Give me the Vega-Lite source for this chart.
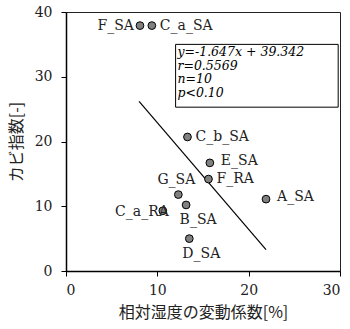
{
  "$schema": "https://vega.github.io/schema/vega-lite/v6.json",
  "width": 274,
  "height": 259,
  "autosize": {"type": "none"},
  "padding": {"left": 66, "top": 12, "right": 10, "bottom": 58},
  "background": "white",
  "config": {
    "view": {"stroke": "#222", "strokeWidth": 1},
    "axis": {
      "grid": false,
      "domainColor": "#000",
      "domainWidth": 1.5,
      "tickColor": "#000",
      "tickSize": 5,
      "labelFont": "DejaVu Serif",
      "labelFontSize": 14,
      "labelColor": "#222",
      "titleFont": "Noto Sans CJK JP",
      "titleFontSize": 16,
      "titleFontWeight": "normal",
      "titleColor": "#222"
    }
  },
  "datasets": {
    "pts": [
      {"name": "F_SA", "x": 8.1, "y": 37.9},
      {"name": "C_a_SA", "x": 9.4, "y": 37.9},
      {"name": "C_b_SA", "x": 13.3, "y": 20.7},
      {"name": "E_SA", "x": 15.75, "y": 16.7},
      {"name": "F_RA", "x": 15.6, "y": 14.2},
      {"name": "A_SA", "x": 21.9, "y": 11.1},
      {"name": "G_SA", "x": 12.3, "y": 11.8},
      {"name": "B_SA", "x": 13.15, "y": 10.2},
      {"name": "C_a_RA", "x": 10.6, "y": 9.3},
      {"name": "D_SA", "x": 13.5, "y": 5.0}
    ],
    "fit": [
      {"x": 8.0, "y": 26.2},
      {"x": 21.9, "y": 3.3}
    ],
    "box": [
      {"x": 12.0, "x2": 29.8, "y": 35.0, "y2": 25.3, "tx": 12.2, "text": ["y=-1.647x + 39.342", "r=0.5569", "n=10", "p<0.10"]}
    ]
  },
  "layer": [
    {
      "data": {"name": "fit"},
      "mark": {"type": "line", "color": "#000", "strokeWidth": 1.2},
      "encoding": {
        "x": {"field": "x", "type": "quantitative", "scale": {"domain": [0, 30], "nice": false},
              "axis": {"values": [0, 10, 20, 30], "title": "相対湿度の変動係数[%]", "labelPadding": 7, "titlePadding": 7}},
        "y": {"field": "y", "type": "quantitative", "scale": {"domain": [0, 40], "nice": false},
              "axis": {"values": [0, 5, 10, 15, 20, 25, 30, 35, 40], "title": "カビ指数[-]", "labelPadding": 9, "titlePadding": 10}}
      }
    },
    {
      "data": {"name": "box"},
      "mark": {"type": "rect", "fill": "white", "stroke": "#000", "strokeWidth": 1},
      "encoding": {
        "x": {"field": "x", "type": "quantitative"},
        "x2": {"field": "x2"},
        "y": {"field": "y", "type": "quantitative"},
        "y2": {"field": "y2"}
      }
    },
    {
      "data": {"name": "box"},
      "mark": {"type": "text", "font": "DejaVu Serif", "fontStyle": "italic", "fontSize": 12.5, "align": "left", "baseline": "top", "lineHeight": 13.5, "dy": 2, "color": "#000"},
      "encoding": {
        "x": {"field": "tx", "type": "quantitative"},
        "y": {"field": "y", "type": "quantitative"},
        "text": {"field": "text"}
      }
    },
    {
      "data": {"name": "pts"},
      "mark": {"type": "point", "shape": "circle", "filled": true, "fill": "#808080", "stroke": "#000", "strokeWidth": 1, "size": 60, "opacity": 1},
      "encoding": {
        "x": {"field": "x", "type": "quantitative"},
        "y": {"field": "y", "type": "quantitative"}
      }
    },
    {
      "data": {"name": "pts"},
      "transform": [{"filter": "indexof(['C_a_SA','C_b_SA','F_RA'], datum.name) >= 0"}],
      "mark": {"type": "text", "font": "DejaVu Serif", "fontSize": 14, "align": "left", "baseline": "middle", "dx": 8, "color": "#222"},
      "encoding": {"x": {"field": "x", "type": "quantitative"}, "y": {"field": "y", "type": "quantitative"}, "text": {"field": "name"}}
    },
    {
      "data": {"name": "pts"},
      "transform": [{"filter": "indexof(['E_SA','A_SA'], datum.name) >= 0"}],
      "mark": {"type": "text", "font": "DejaVu Serif", "fontSize": 14, "align": "left", "baseline": "middle", "dx": 11, "dy": -2, "color": "#222"},
      "encoding": {"x": {"field": "x", "type": "quantitative"}, "y": {"field": "y", "type": "quantitative"}, "text": {"field": "name"}}
    },
    {
      "data": {"name": "pts"},
      "transform": [{"filter": "datum.name == 'F_SA'"}],
      "mark": {"type": "text", "font": "DejaVu Serif", "fontSize": 14, "align": "right", "baseline": "middle", "dx": -6, "color": "#222"},
      "encoding": {"x": {"field": "x", "type": "quantitative"}, "y": {"field": "y", "type": "quantitative"}, "text": {"field": "name"}}
    },
    {
      "data": {"name": "pts"},
      "transform": [{"filter": "datum.name == 'C_a_RA'"}],
      "mark": {"type": "text", "font": "DejaVu Serif", "fontSize": 14, "align": "right", "baseline": "middle", "dx": 6, "dy": 1, "color": "#222"},
      "encoding": {"x": {"field": "x", "type": "quantitative"}, "y": {"field": "y", "type": "quantitative"}, "text": {"field": "name"}}
    },
    {
      "data": {"name": "pts"},
      "transform": [{"filter": "datum.name == 'G_SA'"}],
      "mark": {"type": "text", "font": "DejaVu Serif", "fontSize": 14, "align": "center", "baseline": "middle", "dx": -2, "dy": -15, "color": "#222"},
      "encoding": {"x": {"field": "x", "type": "quantitative"}, "y": {"field": "y", "type": "quantitative"}, "text": {"field": "name"}}
    },
    {
      "data": {"name": "pts"},
      "transform": [{"filter": "indexof(['B_SA','D_SA'], datum.name) >= 0"}],
      "mark": {"type": "text", "font": "DejaVu Serif", "fontSize": 14, "align": "center", "baseline": "middle", "dx": 12, "dy": 15, "color": "#222"},
      "encoding": {"x": {"field": "x", "type": "quantitative"}, "y": {"field": "y", "type": "quantitative"}, "text": {"field": "name"}}
    }
  ]
}
